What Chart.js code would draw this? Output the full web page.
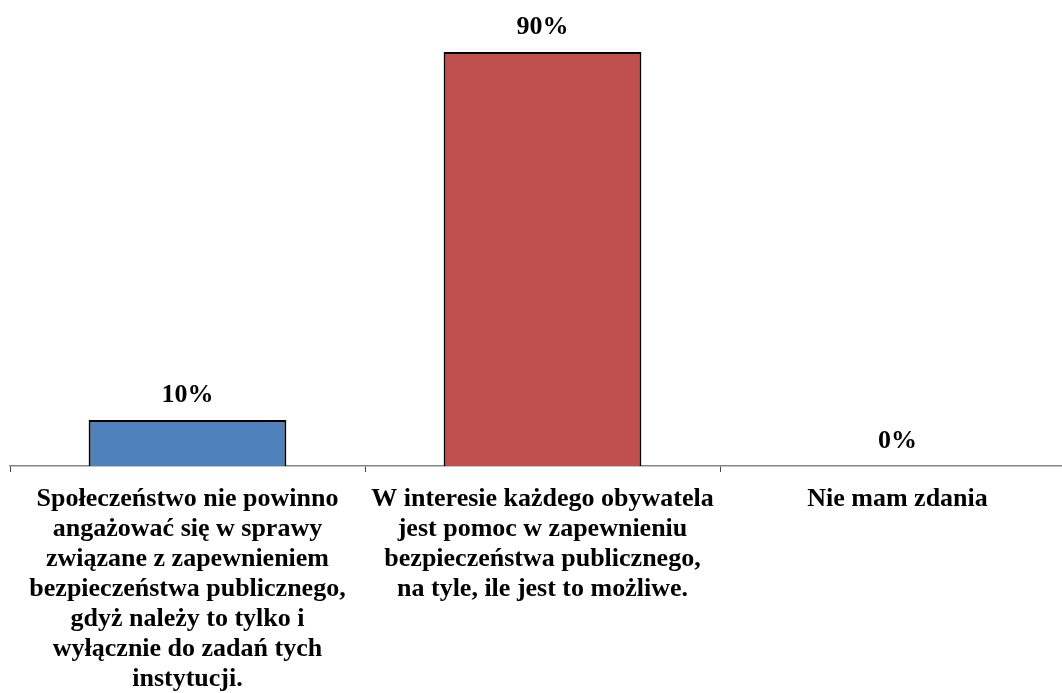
<!DOCTYPE html>
<html>
<head>
<meta charset="utf-8">
<script src="https://cdn.jsdelivr.net/npm/chart.js@4.4.1/dist/chart.umd.min.js"></script>
<style>
html,body{margin:0;padding:0;background:#fff;overflow:hidden;}
#wrap{width:1075px;height:706px;position:relative;}
</style>
</head>
<body>
<div id="wrap"><canvas id="c"></canvas></div>
<script>
const categories = [
  ["Społeczeństwo nie powinno","angażować się w sprawy","związane z zapewnieniem","bezpieczeństwa publicznego,","gdyż należy to tylko i","wyłącznie do zadań tych","instytucji."],
  ["W interesie każdego obywatela","jest pomoc w zapewnieniu","bezpieczeństwa publicznego,","na tyle, ile jest to możliwe."],
  ["Nie mam zdania"]
];
const values = [10, 90, 0];
const barColors = ["#4F81BD", "#C0504D", "#9BBB59"];

const FONT = "'Liberation Serif','Times New Roman',serif";

const valueLabels = {
  id: 'valueLabels',
  afterDatasetsDraw(chart) {
    const ctx = chart.ctx;
    const meta = chart.getDatasetMeta(0);
    ctx.save();
    ctx.font = "bold 26px " + FONT;
    ctx.fillStyle = "#000";
    ctx.textAlign = "center";
    ctx.textBaseline = "middle";
    meta.data.forEach((bar, i) => {
      ctx.fillText(values[i] + "%", bar.x, bar.y - 25);
    });
    ctx.restore();
  }
};

new Chart(document.getElementById('c'), {
  type: 'bar',
  data: {
    labels: categories,
    datasets: [{
      data: values,
      backgroundColor: barColors,
      borderColor: "#000",
      borderWidth: 2,
      categoryPercentage: 1,
      barPercentage: 0.557
    }]
  },
  options: {
    responsive: true,
    maintainAspectRatio: false,
    animation: false,
    layout: { padding: { left: 10, right: 0, top: 6, bottom: 0 } },
    plugins: { legend: { display: false }, tooltip: { enabled: false } },
    scales: {
      y: { display: false, min: 0, max: 100 },
      x: {
        border: { display: true, color: "#868686", width: 1.5 },
        grid: { drawOnChartArea: false, drawTicks: true, tickLength: 6, color: "#444", lineWidth: 1 },
        ticks: {
          color: "#000",
          font: { family: FONT, size: 26, weight: 'bold', lineHeight: 1.154 },
          maxRotation: 0, minRotation: 0, autoSkip: false, padding: 12
        }
      }
    }
  },
  plugins: [valueLabels]
});
</script>
</body>
</html>
